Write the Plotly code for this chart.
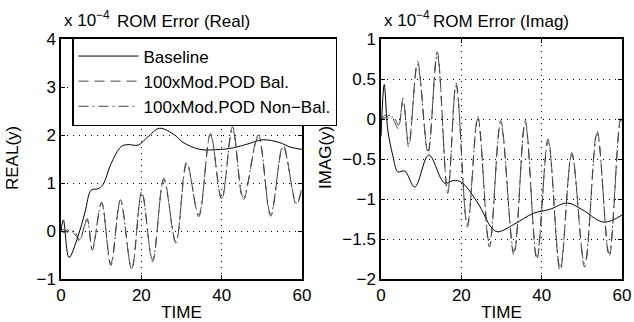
import plotly.graph_objects as go

# ---------- data (units of 1e-4) ----------
t_real_base = [0, 0.6, 2.0, 4.2, 6.0, 7.5, 9.2, 10.4, 12.5, 15.0, 16.7, 19.2, 21.6, 24.5,
               28.3, 30.3, 34.6, 39.6, 42.0, 46.0, 50.3, 54.5, 57.0, 60.0]
real_base = [0.0, 0.23, -0.55, -0.12, 0.40, 0.85, 0.88, 0.96, 1.41, 1.76, 1.80, 1.79, 1.96, 2.14,
             2.00, 1.85, 1.70, 1.70, 1.72, 1.80, 1.90, 1.84, 1.75, 1.70]

t_real_osc = [0, 0.8, 1.6, 2.4, 3.2, 3.9, 4.6, 6.5, 7.8, 10.1, 12.4, 14.8, 17.6, 20.1, 22.8,
              25.6, 28.6, 31.3, 34.3, 37.2, 40.0, 42.7, 45.4, 49.1, 52.2, 55.3, 58.6, 60.0]
real_bal = [0.0, 0.04, -0.03, 0.02, -0.05, -0.12, -0.22, 0.26, -0.40, 0.60, -0.68, 0.65, -0.80,
            0.82, -0.64, 1.10, -0.25, 1.44, 0.30, 2.03, 0.65, 2.17, 0.65, 2.00, 0.31, 1.79, 0.54, 0.90]
real_nonbal = [0.0, -0.03, 0.03, -0.04, 0.01, -0.08, -0.18, 0.22, -0.36, 0.58, -0.72, 0.62, -0.78,
               0.80, -0.60, 1.06, -0.22, 1.40, 0.34, 2.00, 0.68, 2.12, 0.70, 1.96, 0.36, 1.75, 0.58, 0.92]

t_imag_base = [0, 0.8, 1.7, 3.0, 4.2, 5.9, 8.4, 11.9, 15.8, 18.0, 20.0, 24.1, 27.4, 29.0,
               33.0, 37.9, 42.0, 46.4, 50.0, 55.5, 60.0]
imag_base = [-0.22, 0.43, -0.14, -0.47, -0.66, -0.65, -0.85, -0.45, -0.80, -0.77, -0.79, -1.05,
             -1.35, -1.41, -1.32, -1.18, -1.13, -1.05, -1.13, -1.29, -1.20]

t_imag_osc = [0, 1.2, 2.2, 3.2, 4.3, 5.5, 6.9, 9.1, 11.7, 14.0, 16.6, 18.7, 21.5, 24.1, 27.0,
              29.8, 33.1, 35.9, 38.8, 41.6, 44.6, 47.5, 50.7, 53.8, 56.8, 59.7, 60.0]
imag_bal = [0.0, 0.02, 0.05, -0.02, -0.12, 0.26, -0.35, 0.72, -0.43, 0.84, -0.93, 0.45, -1.35,
            0.03, -1.60, -0.02, -1.70, -0.02, -1.76, -0.25, -1.90, -0.42, -1.85, -0.15, -1.72, 0.01, 0.0]
imag_nonbal = [0.0, 0.05, 0.0, 0.03, -0.08, 0.22, -0.31, 0.68, -0.40, 0.80, -0.90, 0.42, -1.32,
               0.0, -1.56, -0.05, -1.66, -0.05, -1.72, -0.28, -1.86, -0.45, -1.81, -0.18, -1.68, -0.02, -0.02]

legend_names = ["Baseline", "100xMod.POD Bal.", "100xMod.POD Non\u2212Bal."]
x_ticks = [0, 20, 40, 60]

FONT = "Liberation Sans, Arial, Helvetica, sans-serif"
FS = 17
fig = go.Figure()

# left panel
fig.add_trace(go.Scatter(x=t_real_base, y=real_base, mode="lines", name=legend_names[0],
                         line=dict(color="black", width=1, shape="spline"), xaxis="x", yaxis="y"))
fig.add_trace(go.Scatter(x=t_real_osc, y=real_bal, mode="lines", name=legend_names[1],
                         line=dict(color="#444", width=1, dash="10px,6px", shape="spline"),
                         xaxis="x", yaxis="y"))
fig.add_trace(go.Scatter(x=t_real_osc, y=real_nonbal, mode="lines", name=legend_names[2],
                         line=dict(color="#444", width=1, dash="10px,4px,2px,4px", shape="spline"),
                         xaxis="x", yaxis="y"))
# right panel
fig.add_trace(go.Scatter(x=t_imag_base, y=imag_base, mode="lines", showlegend=False,
                         line=dict(color="black", width=1, shape="spline"), xaxis="x2", yaxis="y2"))
fig.add_trace(go.Scatter(x=t_imag_osc, y=imag_bal, mode="lines", showlegend=False,
                         line=dict(color="#444", width=1, dash="10px,6px", shape="spline"),
                         xaxis="x2", yaxis="y2"))
fig.add_trace(go.Scatter(x=t_imag_osc, y=imag_nonbal, mode="lines", showlegend=False,
                         line=dict(color="#444", width=1, dash="10px,4px,2px,4px", shape="spline"),
                         xaxis="x2", yaxis="y2"))

ax_common = dict(showline=True, linecolor="black", linewidth=1.5, mirror="ticks",
                 ticks="inside", ticklen=4, tickcolor="black", tickwidth=1,
                 showgrid=True, gridcolor="black", griddash="1px,5px", gridwidth=1,
                 zeroline=False, tickfont=dict(size=FS, color="black"), automargin=False)

L, R, T, B = 61, 12, 39, 43
W, H = 634, 322
pw = W - L - R
ph = H - T - B
d1 = [0, (302 - 61) / pw]
d2 = [(381 - 61) / pw, 1]

fig.update_layout(
    width=W, height=H, margin=dict(l=L, r=R, t=T, b=B, autoexpand=False),
    paper_bgcolor="white", plot_bgcolor="white",
    font=dict(family=FONT, size=FS, color="black"),
    xaxis=dict(domain=d1, range=[0, 60], tickvals=x_ticks, anchor="y",
               title=dict(text="TIME", standoff=4, font=dict(size=FS)), **ax_common),
    yaxis=dict(domain=[0, 1], range=[-1, 4], dtick=1, anchor="x", **ax_common),
    xaxis2=dict(domain=d2, range=[0, 60], tickvals=x_ticks, anchor="y2",
                title=dict(text="TIME", standoff=4, font=dict(size=FS)), **ax_common),
    yaxis2=dict(domain=[0, 1], range=[-2, 1], dtick=0.5, anchor="x2", **ax_common),
    legend=dict(x=(72 - L) / pw, y=(H - B - 37) / ph, xanchor="left", yanchor="top",
                bgcolor="white", bordercolor="black", borderwidth=1.5,
                font=dict(size=FS), itemwidth=60, tracegroupgap=0),
    showlegend=True,
)

def px_x(p):
    return (p - L) / pw

def px_y(p):
    return (H - B - p) / ph

for cx, xl, title in [(183, 62, "ROM Error (Real)"), (501, 382, "ROM Error (Imag)")]:
    fig.add_annotation(x=px_x(cx), y=px_y(21), xref="paper", yref="paper",
                       text=title, showarrow=False, xanchor="center", yanchor="middle",
                       font=dict(size=FS))
    fig.add_annotation(x=px_x(xl), y=px_y(32), xref="paper", yref="paper",
                       text="x 10<sup>\u22124</sup>", showarrow=False, xanchor="left",
                       yanchor="bottom", font=dict(size=FS))

for xp, title in [(12, "REAL(y)"), (325, "IMAG(y)")]:
    fig.add_annotation(x=px_x(xp), y=px_y(158), xref="paper", yref="paper",
                       text=title, showarrow=False, textangle=-90,
                       xanchor="center", yanchor="middle", font=dict(size=FS))

fig.write_html("out.html")
